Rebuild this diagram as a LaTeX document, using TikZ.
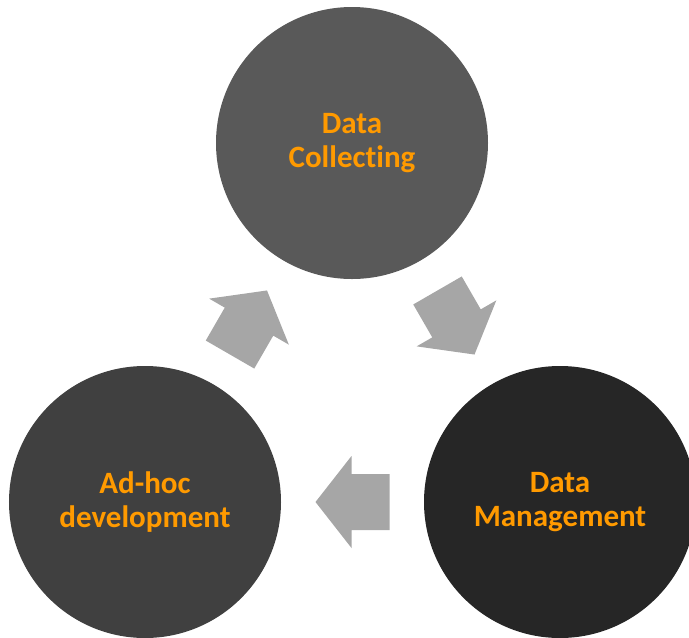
\documentclass[tikz,border=0pt]{standalone}
\usepackage{fontspec}
\setmainfont[RawFeature={-liga}]{Carlito}
\usepackage{xcolor}
\usetikzlibrary{calc}
\definecolor{topgray}{HTML}{595959}
\definecolor{leftgray}{HTML}{404040}
\definecolor{rightgray}{HTML}{262626}
\definecolor{arrowgray}{HTML}{A6A6A6}
\definecolor{labelorange}{HTML}{FF9A00}

\begin{document}
\begin{tikzpicture}[x=0.3mm,y=-0.3mm,
  stage/.style={circle,minimum size=81.6mm,inner sep=0pt,align=center,
    font=\fontsize{26.5}{29}\selectfont\bfseries,text=labelorange},
  cyclearrow/.pic={\fill[arrowgray] (37,0)--(1,-46)--(1,-28)--(-37,-28)--(-37,28)--(1,28)--(1,46)--cycle;}
]
\useasboundingbox (0,0) rectangle (689,638);
\node[stage,fill=topgray] (collect) at (352,143) {Data\\Collecting};
\node[stage,fill=rightgray] (manage) at (560,502) {Data\\Management};
\node[stage,fill=leftgray] (adhoc) at (145,502) {Ad-hoc\\development};
\pic[rotate=-60] at ($(collect)!0.5!(manage)$) {cyclearrow};
\pic[rotate=180] at ($(manage)!0.5!(adhoc)$) {cyclearrow};
\pic[rotate=60] at ($(adhoc)!0.5!(collect)$) {cyclearrow};
\end{tikzpicture}
\end{document}
